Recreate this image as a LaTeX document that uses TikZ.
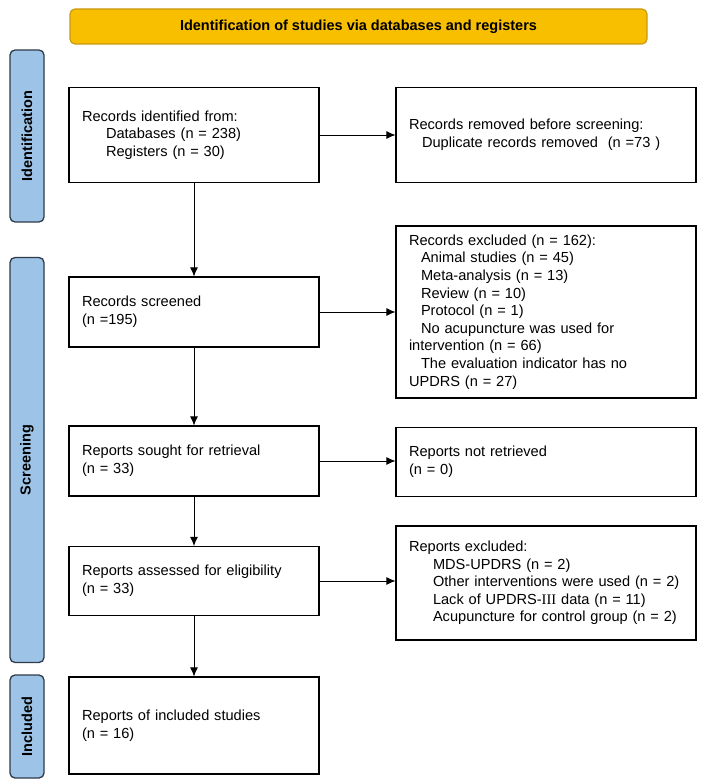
\documentclass[tikz,border=0pt]{standalone}
\usepackage{fontspec}
\setmainfont{Liberation Sans}
\newfontfamily\romfont{Liberation Serif}
\usetikzlibrary{arrows.meta}
\definecolor{hdrfill}{HTML}{F8BE00}
\definecolor{hdrline}{HTML}{C99A10}
\definecolor{sidefill}{HTML}{9DC3E6}
\definecolor{sideline}{HTML}{2F3B4A}
\tikzset{
  box/.style={draw, line width=1.1pt, align=left, inner xsep=13pt, inner ysep=4pt,
    font=\fontsize{14.6}{17.6}\selectfont},
  lbox/.style={box, minimum width=250pt, text width=224pt},
  rbox/.style={box, minimum width=300pt, text width=274pt},
  side/.style={draw=sideline, fill=sidefill, line width=1.3pt, rounded corners=5pt,
    minimum height=34pt, font=\bfseries\fontsize{14.5}{16}\selectfont},
  arr/.style={-{Latex[length=9pt,width=8pt]}, line width=0.9pt},
}
\begin{document}
\begin{tikzpicture}[x=1pt,y=-1pt]
\useasboundingbox (0,0) rectangle (708,784);
% header
\node[draw=hdrline, fill=hdrfill, line width=1.2pt, rounded corners=5pt,
  minimum width=577pt, minimum height=35pt, font=\bfseries\fontsize{14.5}{16}\selectfont]
  (hdr) at (358.5,26.5) {Identification of studies via databases and registers};
% side labels
\node[side, minimum width=172pt, rotate=90] (sid) at (27,136) {Identification};
\node[side, minimum width=405pt, rotate=90] (sscr) at (27,460) {Screening};
\node[side, minimum width=103pt, rotate=90] (sinc) at (27,726.5) {Included};
% left column
\node[lbox, minimum height=95pt] (ident) at (194,135)
  {Records identified from:\\\hspace*{24pt}Databases (n = 238)\\\hspace*{24pt}Registers (n = 30)};
\node[lbox, minimum height=70pt] (scr) at (194,312)
  {Records screened\\(n =195)};
\node[lbox, minimum height=70pt] (sought) at (194,461)
  {Reports sought for retrieval\\(n = 33)};
\node[lbox, minimum height=69pt] (assess) at (194,581)
  {Reports assessed for eligibility\\(n = 33)};
\node[lbox, minimum height=97pt] (incl) at (194,725.5)
  {Reports of included studies\\(n = 16)};
% right column
\node[rbox, minimum height=95pt] (removed) at (546,135)
  {Records removed before screening:\\\hspace*{13pt}Duplicate records removed\ \ (n =73 )};
\node[rbox, minimum height=172pt] (excl) at (546,312)
  {Records excluded (n = 162):\\
   \hspace*{12pt}Animal studies (n = 45)\\
   \hspace*{12pt}Meta-analysis (n = 13)\\
   \hspace*{12pt}Review (n = 10)\\
   \hspace*{12pt}Protocol (n = 1)\\
   \hspace*{12pt}No acupuncture was used for\\
   intervention (n = 66)\\
   \hspace*{12pt}The evaluation indicator has no\\
   UPDRS (n = 27)};
\node[rbox, minimum height=69pt] (notret) at (546,462)
  {Reports not retrieved\\(n = 0)};
\node[rbox, minimum height=114pt] (repexcl) at (546,583)
  {Reports excluded:\\
   \hspace*{24pt}MDS-UPDRS (n = 2)\\
   \hspace*{24pt}Other interventions were used (n = 2)\\
   \hspace*{24pt}Lack of UPDRS-{\romfont III} data (n = 11)\\
   \hspace*{24pt}Acupuncture for control group (n = 2)};
% connectors
\draw[arr] (ident.south) -- (scr.north);
\draw[arr] (scr.south) -- (sought.north);
\draw[arr] (sought.south) -- (assess.north);
\draw[arr] (assess.south) -- (incl.north);
\draw[arr] (ident.east) -- (ident.east -| removed.west);
\draw[arr] (scr.east) -- (scr.east -| excl.west);
\draw[arr] (sought.east) -- (sought.east -| notret.west);
\draw[arr] (assess.east) -- (assess.east -| repexcl.west);
\end{tikzpicture}
\end{document}
